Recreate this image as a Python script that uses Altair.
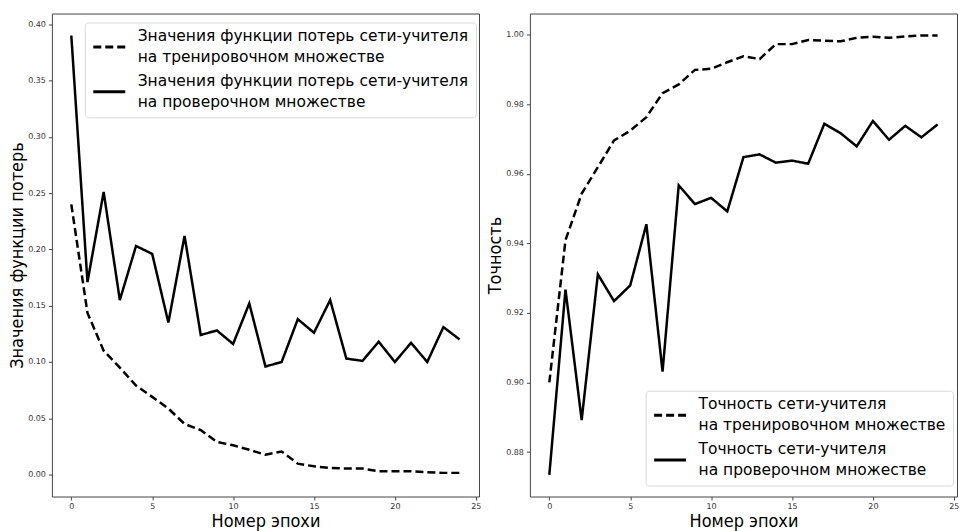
import altair as alt
import pandas as pd

epochs = list(range(25))

train_loss = [0.240, 0.1435, 0.110, 0.095, 0.079, 0.069, 0.0586, 0.045, 0.0395, 0.029,
              0.026, 0.022, 0.0176, 0.0205, 0.0097, 0.0073, 0.0059, 0.0053, 0.0053, 0.003,
              0.003, 0.003, 0.002, 0.0015, 0.0015]
val_loss = [0.390, 0.171, 0.251, 0.155, 0.203, 0.196, 0.135, 0.212, 0.124, 0.128,
            0.116, 0.152, 0.096, 0.100, 0.138, 0.126, 0.155, 0.103, 0.101, 0.118,
            0.100, 0.117, 0.100, 0.131, 0.120]
train_acc = [0.900, 0.9409, 0.9543, 0.9619, 0.9696, 0.9724, 0.9763, 0.9832, 0.9857, 0.9899,
             0.9902, 0.9921, 0.9938, 0.9930, 0.9973, 0.9973, 0.9985, 0.9983, 0.9981, 0.9991,
             0.9994, 0.9991, 0.9995, 0.9998, 0.9998]
val_acc = [0.8734, 0.9267, 0.8892, 0.9311, 0.9234, 0.9279, 0.9455, 0.9031, 0.9567, 0.9513,
           0.9531, 0.9492, 0.9648, 0.9656, 0.9632, 0.9638, 0.9629, 0.9744, 0.9717, 0.9679,
           0.9752, 0.9698, 0.9738, 0.9705, 0.9742]

loss_names = ["Значения функции потерь сети-учителя\n\u00a0на тренировочном множестве",
              "Значения функции потерь сети-учителя\n\u00a0на проверочном множестве"]
acc_names = ["Точность сети-учителя\n\u00a0на тренировочном множестве",
             "Точность сети-учителя\n\u00a0на проверочном множестве"]

x_title = "Номер эпохи"
loss_title = "Значения функции потерь"
acc_title = "Точность"

x_ticks = [0, 5, 10, 15, 20, 25]
loss_ticks = [0.00, 0.05, 0.10, 0.15, 0.20, 0.25, 0.30, 0.35, 0.40]
acc_ticks = [0.88, 0.90, 0.92, 0.94, 0.96, 0.98, 1.00]

loss_df = pd.DataFrame({
    "epoch": epochs * 2,
    "value": train_loss + val_loss,
    "series": [loss_names[0]] * 25 + [loss_names[1]] * 25,
})
acc_df = pd.DataFrame({
    "epoch": epochs * 2,
    "value": train_acc + val_acc,
    "series": [acc_names[0]] * 25 + [acc_names[1]] * 25,
})

TITLE_FONT = "DejaVu Sans Condensed, DejaVu Sans"
W, H = 428, 484


def make_legend(lx, ly):
    return alt.Legend(
        orient="none", legendX=lx, legendY=ly, title=None,
        symbolType="stroke", symbolSize=1024, symbolStrokeWidth=3,
        symbolStrokeColor="black",
        labelFont="DejaVu Sans", labelFontSize=15.5, labelColor="black",
        labelLimit=1000, labelOffset=11, labelBaseline="line-bottom",
        labelExpr="split(datum.label, '\\n')",
        rowPadding=8, padding=7,
        fillColor="white", strokeColor="#d9d9d9", cornerRadius=3,
    )


def panel(df, names, ydomain, yticks, ytitle, lx, ly):
    return alt.Chart(df).mark_line(strokeWidth=2.5, color="black").encode(
        x=alt.X("epoch:Q", scale=alt.Scale(domain=[-1.2, 25.2], nice=False, zero=False),
                axis=alt.Axis(values=x_ticks, title=x_title, format="d")),
        y=alt.Y("value:Q", scale=alt.Scale(domain=ydomain, nice=False, zero=False),
                axis=alt.Axis(values=yticks, title=ytitle, format=".2f")),
        strokeDash=alt.StrokeDash(
            "series:N",
            scale=alt.Scale(domain=names, range=[[8, 4], [1, 0]]),
            legend=make_legend(lx, ly),
        ),
    ).properties(width=W, height=H)


left = panel(loss_df, loss_names, [-0.0195, 0.4095], loss_ticks, loss_title, 33, 9)
right = panel(acc_df, acc_names, [0.8672, 1.0061], acc_ticks, acc_title, 116, 378)

chart = alt.hconcat(left, right, spacing=51, bounds="flush").resolve_scale(
    strokeDash="independent", x="independent", y="independent"
).resolve_legend(strokeDash="independent").properties(
    padding={"left": 8, "top": 12, "right": 0, "bottom": 0},
    background="white",
).configure(
    style={"guide-label": {"lineHeight": 21}}
).configure_view(
    stroke="#444", strokeWidth=1,
).configure_axis(
    grid=False, domain=False,
    tickColor="#444", tickSize=3.5, tickWidth=1,
    labelFont="DejaVu Sans", labelFontSize=8, labelColor="#333", labelPadding=3,
    titleFont=TITLE_FONT, titleFontSize=18, titleFontWeight="normal", titleColor="black",
).configure_axisX(titlePadding=2).configure_axisY(titlePadding=1)

chart.save("out.html", embed_options={"renderer": "svg", "actions": False})
